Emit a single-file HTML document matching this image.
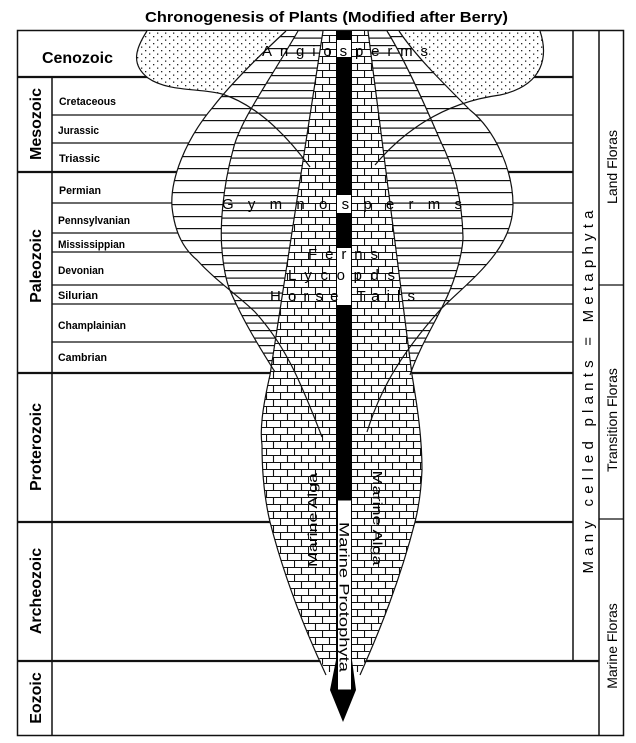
<!DOCTYPE html>
<html><head><meta charset="utf-8"><style>html,body{margin:0;padding:0;background:#fff}svg{display:block}</style></head><body>
<svg width="636" height="743" viewBox="0 0 636 743" xmlns="http://www.w3.org/2000/svg" font-family="Liberation Sans, sans-serif">
<defs>
<pattern id="dots" patternUnits="userSpaceOnUse" width="8" height="7">
<rect width="8" height="7" fill="#fff"/>
<rect x="1" y="1" width="1.3" height="1.3" fill="#222"/>
<rect x="5" y="4.5" width="1.3" height="1.3" fill="#222"/>
</pattern>
<pattern id="sparse" patternUnits="userSpaceOnUse" width="20" height="12">
<rect width="20" height="12" fill="#fff"/>
<rect y="0" width="20" height="1.2" fill="#111"/>
</pattern>
<pattern id="dense" patternUnits="userSpaceOnUse" width="20" height="7.5">
<rect width="20" height="7.5" fill="#fff"/>
<rect y="0" width="20" height="1.2" fill="#111"/>
</pattern>
<pattern id="brick" patternUnits="userSpaceOnUse" width="14" height="14">
<rect width="14" height="14" fill="#fff"/>
<path d="M0,0.5H14M0,7.5H14M0.5,0V7M7.5,7V14" stroke="#111" stroke-width="1.1" fill="none"/>
</pattern>
</defs>

<text x="145" y="22" font-size="15" font-weight="bold" textLength="363" lengthAdjust="spacingAndGlyphs">Chronogenesis of Plants  (Modified after Berry)</text>

<g stroke="#111" fill="none">
<rect x="17.5" y="30.5" width="606" height="705" stroke-width="1.5"/>
<line x1="52" y1="77" x2="52" y2="735" stroke-width="1.5"/>
<line x1="573" y1="30" x2="573" y2="660" stroke-width="1.5"/>
<line x1="599" y1="30" x2="599" y2="735" stroke-width="1.5"/>
<line x1="599" y1="285" x2="623" y2="285" stroke-width="1.2"/>
<line x1="599" y1="519" x2="623" y2="519" stroke-width="1.2"/>
<g stroke-width="2.2">
<line x1="17" y1="77" x2="573" y2="77"/>
<line x1="17" y1="172" x2="573" y2="172"/>
<line x1="17" y1="373" x2="573" y2="373"/>
<line x1="17" y1="522" x2="573" y2="522"/>
<line x1="17" y1="661" x2="599" y2="661"/>
</g>
<g stroke-width="1.2">
<line x1="52" y1="115" x2="573" y2="115"/>
<line x1="52" y1="143" x2="573" y2="143"/>
<line x1="52" y1="203" x2="573" y2="203"/>
<line x1="52" y1="233" x2="573" y2="233"/>
<line x1="52" y1="252" x2="573" y2="252"/>
<line x1="52" y1="285" x2="573" y2="285"/>
<line x1="52" y1="304" x2="573" y2="304"/>
<line x1="52" y1="342" x2="573" y2="342"/>
</g>
</g>

<path d="M147,31 C136,48 130,64 148,78 C168,92 200,88 222,94 C260,106 290,140 310,167 L375,165 C400,135 440,103 500,95 C545,85 548,55 540,31 Z" fill="url(#dots)"/>
<path d="M286,31 C260,55 230,85 213,107 C185,140 170,180 172,207 C175,235 185,250 197,260 C215,280 240,297 255,312 C285,345 300,380 322,437 L367,432 C380,390 400,355 440,310 C470,280 513,250 513,205 C513,170 495,130 470,110 C440,80 415,55 399,31 Z" fill="url(#sparse)"/>
<path d="M298,31 C270,80 240,120 233,150 C222,190 220,230 222,250 C224,275 228,287 232,295 C243,320 258,345 275,372 L410,375 C420,345 440,315 450,290 C460,265 463,245 463,237 C462,200 455,170 440,140 C425,105 405,60 387,31 Z" fill="url(#dense)"/>
<path d="M323,31 L368,31 L412,375 C418,410 422,440 422,470 C421,495 418,510 415,522 C400,580 380,630 360,672 L326,672 C305,630 285,580 270,522 C266,505 262,480 262,445 C260,430 262,410 270,375 Z" fill="url(#brick)"/>

<g fill="none" stroke="#111" stroke-width="1.2">
<path d="M147,31 C136,48 130,64 148,78 C168,92 200,88 222,94 C260,106 290,140 310,167"/>
<path d="M540,31 C548,55 545,85 500,95 C440,103 400,135 375,165"/>
<path d="M286,31 C260,55 230,85 213,107 C185,140 170,180 172,207 C175,235 185,250 197,260 C215,280 240,297 255,312 C285,345 300,380 322,437"/>
<path d="M399,31 C415,55 440,80 470,110 C495,130 513,170 513,205 C513,250 470,280 440,310 C400,355 380,390 367,432"/>
<path d="M298,31 C270,80 240,120 233,150 C222,190 220,230 222,250 C224,275 228,287 232,295 C243,320 258,345 275,372"/>
<path d="M387,31 C405,60 425,105 440,140 C455,170 462,200 463,237 C463,245 460,265 450,290 C440,315 420,345 410,375"/>
<path d="M323,31 L270,375 C262,410 260,430 262,445 C262,480 266,505 270,522 C285,580 305,630 326,675"/>
<path d="M368,31 L412,375 C418,410 422,440 422,470 C421,495 418,510 415,522 C400,580 380,630 360,675"/>
</g>

<polygon points="336,31 352,31 352,660 356,690 343,722 330,690 336,660" fill="#000"/>
<rect x="337.5" y="500" width="14" height="190" fill="#fff" stroke="#000" stroke-width="1"/>
<rect x="337" y="40" width="14" height="17" fill="#fff"/>
<rect x="337" y="195" width="14" height="18" fill="#fff"/>
<rect x="337" y="248" width="14" height="57" fill="#fff"/>

<g font-size="15" fill="#000">
<text x="262" y="56" textLength="166" lengthAdjust="spacing">Angiosperms</text>
<text x="222" y="209" textLength="240" lengthAdjust="spacing">Gymnosperms</text>
<text x="308" y="259" textLength="70" lengthAdjust="spacing">Ferns</text>
<text x="288" y="280" textLength="107" lengthAdjust="spacing">Lycopds</text>
<text x="270" y="301" textLength="145" lengthAdjust="spacing">Horse Tails</text>
<text transform="translate(339.5,597) rotate(90)" text-anchor="middle" font-size="14" textLength="150" lengthAdjust="spacingAndGlyphs">Marine Protophyta</text>
<text transform="translate(317,520) rotate(-90)" text-anchor="middle" font-size="13" textLength="94" lengthAdjust="spacingAndGlyphs">Marine Alga</text>
<text transform="translate(373,518) rotate(90)" text-anchor="middle" font-size="13" textLength="95" lengthAdjust="spacingAndGlyphs">Marine Alga</text>
</g>

<g font-size="16" font-weight="bold" fill="#000">
<text x="42" y="63" textLength="71" lengthAdjust="spacingAndGlyphs">Cenozoic</text>
<text transform="translate(41,124) rotate(-90)" text-anchor="middle">Mesozoic</text>
<text transform="translate(41,266) rotate(-90)" text-anchor="middle">Paleozoic</text>
<text transform="translate(41,447) rotate(-90)" text-anchor="middle">Proterozoic</text>
<text transform="translate(41,591) rotate(-90)" text-anchor="middle">Archeozoic</text>
<text transform="translate(41,698) rotate(-90)" text-anchor="middle">Eozoic</text>
</g>
<g font-size="11" font-weight="bold" fill="#000">
<text x="59" y="105" textLength="57" lengthAdjust="spacingAndGlyphs">Cretaceous</text>
<text x="58" y="134" textLength="41" lengthAdjust="spacingAndGlyphs">Jurassic</text>
<text x="59" y="162" textLength="41" lengthAdjust="spacingAndGlyphs">Triassic</text>
<text x="59" y="194" textLength="42" lengthAdjust="spacingAndGlyphs">Permian</text>
<text x="58" y="224" textLength="72" lengthAdjust="spacingAndGlyphs">Pennsylvanian</text>
<text x="58" y="248" textLength="67" lengthAdjust="spacingAndGlyphs">Mississippian</text>
<text x="58" y="274" textLength="46" lengthAdjust="spacingAndGlyphs">Devonian</text>
<text x="58" y="299" textLength="40" lengthAdjust="spacingAndGlyphs">Silurian</text>
<text x="58" y="329" textLength="68" lengthAdjust="spacingAndGlyphs">Champlainian</text>
<text x="58" y="361" textLength="49" lengthAdjust="spacingAndGlyphs">Cambrian</text>
</g>

<g fill="#000">
<text transform="translate(593,392) rotate(-90)" text-anchor="middle" font-size="15" textLength="363" lengthAdjust="spacing">Many celled plants = Metaphyta</text>
<text transform="translate(617,167) rotate(-90)" text-anchor="middle" font-size="14">Land Floras</text>
<text transform="translate(617,420) rotate(-90)" text-anchor="middle" font-size="14">Transition Floras</text>
<text transform="translate(617,646) rotate(-90)" text-anchor="middle" font-size="14">Marine Floras</text>
</g>
</svg>
</body></html>
